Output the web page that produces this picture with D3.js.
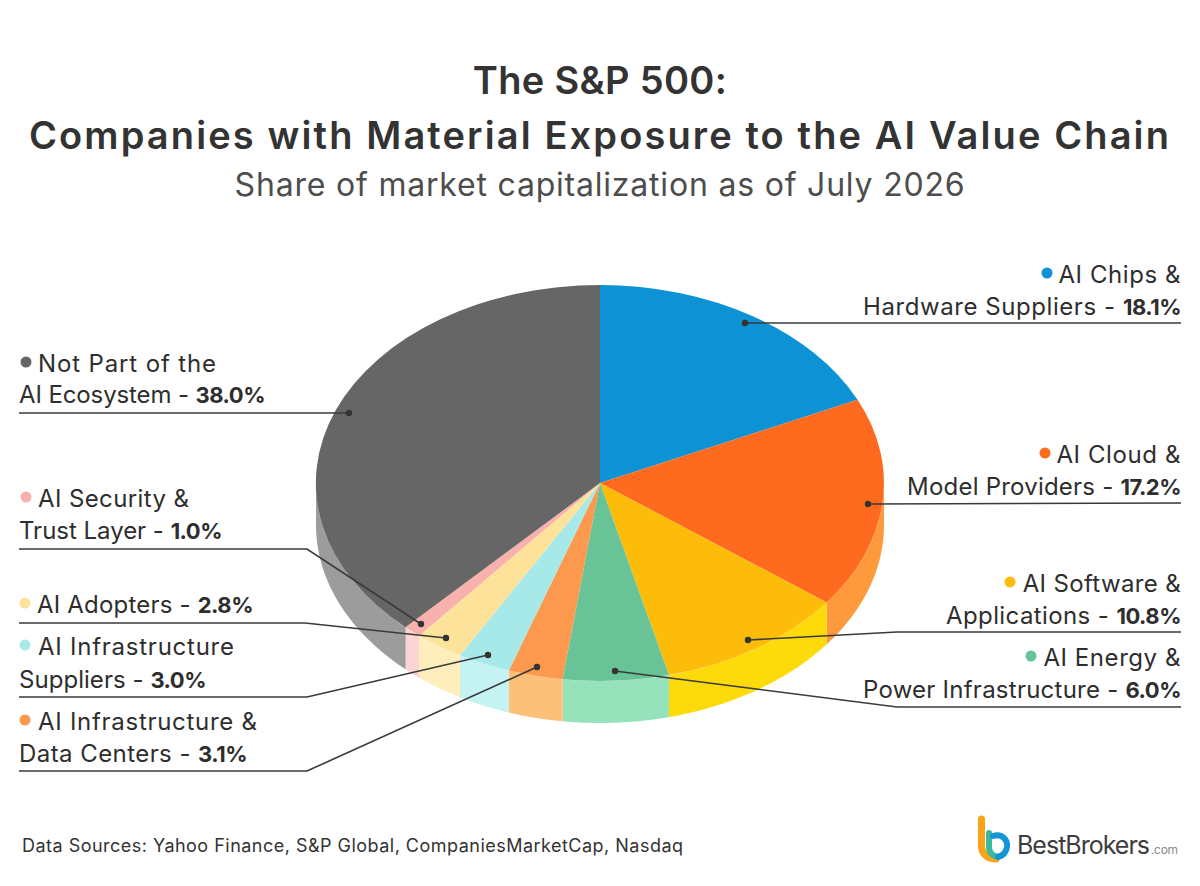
<!DOCTYPE html>
<meta charset="utf-8">
<script src="https://d3js.org/d3.v7.min.js"></script>
<style>
html,body{margin:0;background:#fff;}
svg{display:block;font-family:Inter,"Noto Sans",sans-serif;}
</style>
<div id="chart"></div>
<script>
// data, clockwise from 12 o'clock
const categories = ["AI Chips & Hardware Suppliers","AI Cloud & Model Providers","AI Software & Applications","AI Energy & Power Infrastructure","AI Infrastructure & Data Centers","AI Infrastructure Suppliers","AI Adopters","AI Security & Trust Layer","Not Part of the AI Ecosystem"];
const shares = [18.1,17.2,10.8,6.0,3.1,3.0,2.8,1.0,38.0];
const firstLines = ["AI Chips &","AI Cloud &","AI Software &","AI Energy &","AI Infrastructure &","AI Infrastructure","","AI Security &","Not Part of the"];
const secondLines = ["Hardware Suppliers - ","Model Providers - ","Applications - ","Power Infrastructure - ","Data Centers - ","Suppliers - ","AI Adopters - ","Trust Layer - ","AI Ecosystem - "];
const topColors = ["#0d93d5","#ff6b1e","#fdbb0a","#68c496","#fd984f","#a7e8e8","#fde29a","#f8b1ad","#666666"];
const sideColors = ["#0a7ab2","#fe9a3c","#fddb0a","#96e2bb","#fdc078","#c5f2f2","#fdeebb","#fbd5d3","#9c9c9c"];

// label layout: side, y of both baselines, bullet x, line widths, leader line
const layout = [
  {side:"r",y:[283,315],bx:1047,w:[122,318],leader:[[745,323],[1181,323]]},
  {side:"r",y:[463,495],bx:1045,w:[124,274],leader:[[868,504],[1181,503]]},
  {side:"r",y:[592,624],bx:1010,w:[158,235],leader:[[748,640],[897,632],[1181,632]]},
  {side:"r",y:[666,698],bx:1031,w:[137,318],leader:[[615,671],[897,707],[1181,707]]},
  {side:"l",y:[730,762],bx:25,w:[219,228],leader:[[537,667],[307,771],[19,771]]},
  {side:"l",y:[655,688],bx:25,w:[196,187],leader:[[488,655],[307,697],[19,697]]},
  {side:"l",y:[null,613],bx:25,w:[0,216],leader:[[446,638],[305,623],[19,623]]},
  {side:"l",y:[507,539],bx:26,w:[151,203],leader:[[421,624],[307,549],[19,549]]},
  {side:"l",y:[372,403],bx:26,w:[178,246],leader:[[349,413],[19,413]]}
];

const width = 1200, height = 886;
const cx = 600, cy = 483, rx = 284, ry = 198, depth = 42;

const svg = d3.select("#chart").append("svg").attr("width",width).attr("height",height);

// stretch letter spacing so a line takes the width it has in the reference
function fit(text, target){
  const n = text.text().length;
  const w = text.node().getComputedTextLength();
  text.style("letter-spacing", ((target - w) / Math.max(1, n - 1)) + "px");
  return text;
}

const title = svg.append("g").attr("fill","#333333").attr("font-weight",600).attr("font-size",38).attr("text-anchor","middle");
title.append("text").attr("x",600).attr("y",94).text("The S&P 500:").call(fit,254);
title.append("text").attr("x",600).attr("y",149).text("Companies with Material Exposure to the AI Value Chain").call(fit,1140);
svg.append("text").attr("x",600).attr("y",196).attr("text-anchor","middle").attr("font-size",32).attr("fill","#4d4d4d")
  .text("Share of market capitalization as of July 2026").call(fit,730);

// pie
const arcs = d3.pie().sort(null).value(d=>d)(shares);
const pie = svg.append("g");

// side wall: only the part of each slice facing front (90deg to 270deg)
const ex = a => cx + rx*Math.sin(a), ey = a => cy - ry*Math.cos(a);
function wallPath(d){
  const a0 = Math.max(d.startAngle, Math.PI/2), a1 = Math.min(d.endAngle, Math.PI*1.5);
  if(a1 <= a0) return null;
  const p = d3.path();
  p.moveTo(ex(a0), ey(a0));
  const steps = 48;
  for(let i=1;i<=steps;i++){ const a=a0+(a1-a0)*i/steps; p.lineTo(ex(a),ey(a)); }
  for(let i=steps;i>=0;i--){ const a=a0+(a1-a0)*i/steps; p.lineTo(ex(a),ey(a)+depth); }
  p.closePath();
  return p.toString();
}
pie.selectAll("path.wall").data(arcs).join("path").attr("class","wall")
  .attr("d",wallPath).attr("fill",(d,i)=>sideColors[i]);

// top face: unit circle arc stretched to the ellipse
const arc = d3.arc().innerRadius(0).outerRadius(1);
pie.append("g").attr("transform",`translate(${cx},${cy}) scale(${rx},${ry})`)
  .selectAll("path").data(arcs).join("path")
  .attr("d",arc).attr("fill",(d,i)=>topColors[i]);

// leader lines and dots
const line = d3.line();
const leaders = svg.append("g");
leaders.selectAll("path").data(layout).join("path")
  .attr("d",d=>line(d.leader)).attr("fill","none").attr("stroke","#3a3a3a").attr("stroke-width",1.6);
leaders.selectAll("circle").data(layout).join("circle")
  .attr("cx",d=>d.leader[0][0]).attr("cy",d=>d.leader[0][1]).attr("r",3.2).attr("fill","#333333");

// labels
const labels = svg.append("g").attr("font-size",24).attr("fill","#2e2e2e");
layout.forEach((l,i)=>{
  const right = l.side==="r";
  const x = right ? 1181 : 19;
  const anchor = right ? "end" : "start";
  const single = l.y[0]===null;
  svg.append("circle").attr("cx",l.bx).attr("cy",(single?l.y[1]:l.y[0])-10).attr("r",5.5).attr("fill",topColors[i]);
  if(!single){
    labels.append("text").attr("x",right?x:38).attr("y",l.y[0]).attr("text-anchor",anchor)
      .text(firstLines[i]).call(fit,l.w[0]);
  }
  const t = labels.append("text").attr("x",right?x:(single?37:19)).attr("y",l.y[1]).attr("text-anchor",anchor);
  const head = t.append("tspan").text(secondLines[i]);
  t.append("tspan").attr("font-weight",700).attr("font-size",22).style("letter-spacing","-0.5px").text(shares[i].toFixed(1)+"%");
  // only the regular part takes up the slack, the bold value stays tight
  const slack = l.w[1] - t.node().getComputedTextLength();
  head.style("letter-spacing", (slack / secondLines[i].length) + "px");
});

// footer
svg.append("text").attr("x",22).attr("y",852).attr("font-size",18).attr("fill","#333333")
  .text("Data Sources: Yahoo Finance, S&P Global, CompaniesMarketCap, Nasdaq").call(fit,661);

// logo
const logo = svg.append("g").attr("fill","none").attr("stroke-linecap","round");
logo.append("path").attr("d","M981.5 819V846C981.5 854 988 859 996 859").attr("stroke","#f9a51a").attr("stroke-width",7);
logo.append("path").attr("d","M989 833V847C989 854 995 858 1001 856").attr("stroke","#3bb8a0").attr("stroke-width",6);
logo.append("path").attr("d","M993 836C1002 833 1008 840 1007 847C1006 853 1002 856 998 857").attr("stroke","#1594d6").attr("stroke-width",6);
svg.append("text").attr("x",1017).attr("y",854).attr("font-size",25).attr("fill","#3d3d3d").text("BestBrokers").call(fit,133);
svg.append("text").attr("x",1151).attr("y",854).attr("font-size",12).attr("fill","#8a8a8a").text(".com").call(fit,27);
</script>
